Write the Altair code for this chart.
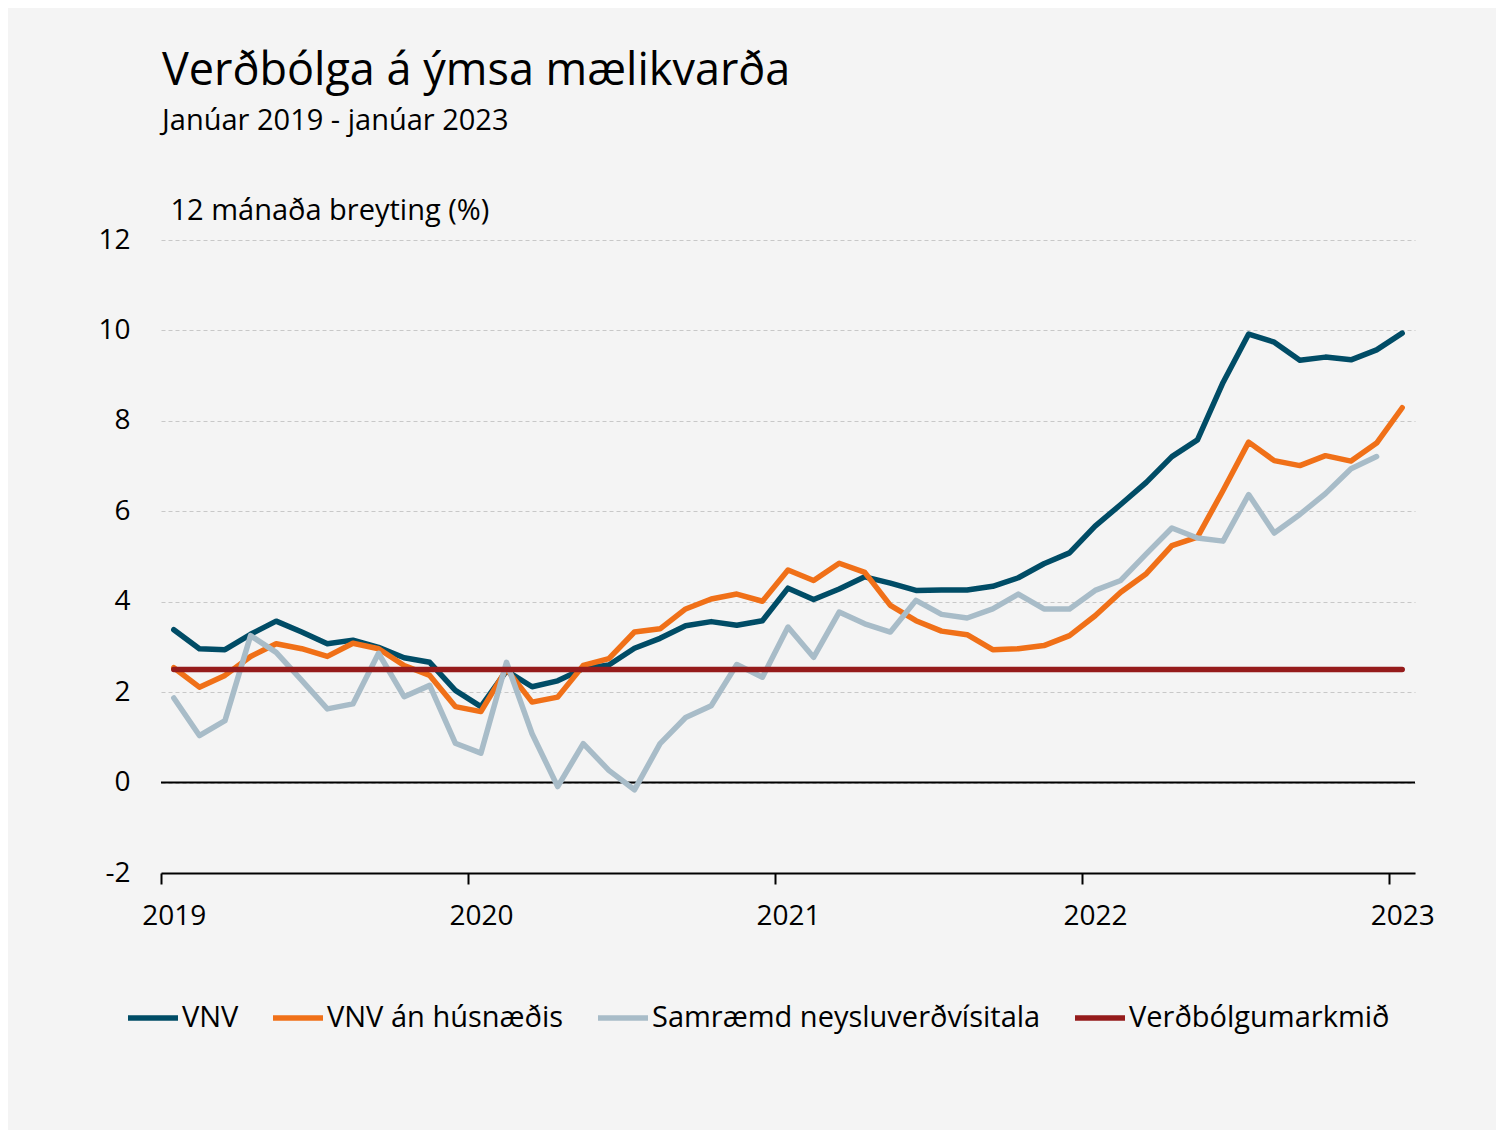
import altair as alt
import pandas as pd

months = list(range(49))  # Jan 2019 .. Jan 2023, monthly index
year_labels = ["2019", "2020", "2021", "2022", "2023"]
year_ticks = [0, 12, 24, 36, 48]

series_names = ["VNV", "VNV án húsnæðis", "Samræmd neysluverðvísitala", "Verðbólgumarkmið"]
series_colors = ["#004c66", "#f07018", "#a8bcc8", "#951b1b"]
series_widths = [5.5, 5.5, 5.5, 7]

vnv = [3.38, 2.96, 2.94, 3.28, 3.57, 3.33, 3.07, 3.15, 2.99, 2.76, 2.66, 2.04,
       1.68, 2.47, 2.12, 2.25, 2.52, 2.60, 2.97, 3.19, 3.47, 3.56, 3.48, 3.58,
       4.30, 4.05, 4.28, 4.55, 4.41, 4.25, 4.26, 4.26, 4.34, 4.53, 4.84, 5.08,
       5.67, 6.15, 6.64, 7.21, 7.58, 8.85, 9.92, 9.74, 9.34, 9.41, 9.35, 9.57, 9.94]

vnv_an_hus = [2.54, 2.11, 2.37, 2.79, 3.07, 2.96, 2.79, 3.08, 2.96, 2.59, 2.37, 1.68,
              1.57, 2.51, 1.78, 1.89, 2.59, 2.74, 3.33, 3.40, 3.84, 4.06, 4.17, 4.01,
              4.70, 4.47, 4.85, 4.65, 3.92, 3.58, 3.35, 3.27, 2.94, 2.96, 3.03, 3.25,
              3.69, 4.21, 4.62, 5.24, 5.43, 6.46, 7.53, 7.12, 7.01, 7.23, 7.11, 7.51, 8.29]

samraemd = [1.87, 1.04, 1.37, 3.25, 2.88, 2.26, 1.63, 1.74, 2.86, 1.90, 2.15, 0.87,
            0.65, 2.66, 1.08, -0.09, 0.86, 0.27, -0.16, 0.86, 1.44, 1.70, 2.61, 2.33,
            3.44, 2.77, 3.77, 3.51, 3.33, 4.03, 3.72, 3.64, 3.84, 4.17, 3.84, 3.84,
            4.25, 4.47, 5.06, 5.63, 5.41, 5.34, 6.37, 5.52, 5.93, 6.39, 6.94, 7.21, None]

markmid = [2.5] * 49

zero_line = [0]

rows = []
for name, vals in zip(series_names, [vnv, vnv_an_hus, samraemd, markmid]):
    for m, v in zip(months, vals):
        if v is not None:
            rows.append({"m": m, "v": v, "s": name})
df = pd.DataFrame(rows)

FONT = "Open Sans"
px_per_month = 1254 / 49

x_enc = alt.X(
    "m:Q",
    scale=alt.Scale(domain=[-0.5, 48.5], nice=False, zero=False),
    axis=alt.Axis(
        values=year_ticks,
        labelExpr="['" + "','".join(year_labels) + "'][datum.value/12]",
        title=None,
        grid=False,
        domainColor="#000000",
        domainWidth=2,
        tickColor="#000000",
        tickWidth=2,
        tickSize=11,
        tickOffset=-px_per_month / 2,
        labelOffset=px_per_month / 2,
        labelPadding=18,
        labelFontSize=28,
        labelFont=FONT,
        labelColor="#000000",
    ),
)

y_enc = alt.Y(
    "v:Q",
    scale=alt.Scale(domain=[-2, 12], nice=False),
    axis=alt.Axis(
        values=[-2, 0, 2, 4, 6, 8, 10, 12],
        labelExpr="toString(datum.value)",
        title="12 mánaða breyting (%)",
        titleAngle=0,
        titleAlign="left",
        titleBaseline="alphabetic",
        titleX=9,
        titleY=-21,
        titleFont=FONT,
        titleFontSize=29,
        titleFontWeight="normal",
        titleColor="#000000",
        domain=False,
        ticks=False,
        labelPadding=31,
        labelFontSize=28,
        labelFont=FONT,
        labelColor="#000000",
        grid=True,
        gridColor="#c8c8c8",
        gridDash=[4, 3],
        gridWidth=1,
    ),
)

lines = alt.Chart(df).mark_line(strokeCap="round", strokeJoin="round").encode(
    x=x_enc,
    y=y_enc,
    color=alt.Color(
        "s:N",
        scale=alt.Scale(domain=series_names, range=series_colors),
        sort=series_names,
        legend=alt.Legend(
            title=None,
            orient="none",
            legendX=-36,
            legendY=750,
            direction="horizontal",
            symbolType="stroke",
            symbolSize=2500,
            symbolStrokeWidth=6,
            labelFont=FONT,
            labelFontSize=29,
            labelColor="#000000",
            labelLimit=600,
            labelOffset=1,
            columnPadding=23,
        ),
    ),
    strokeWidth=alt.StrokeWidth(
        "s:N",
        scale=alt.Scale(domain=series_names, range=series_widths),
        legend=None,
    ),
    order=alt.Order("s_order:Q"),
    detail="s:N",
).transform_calculate(
    s_order="indexof(" + str(series_names) + ", datum.s)"
)

zero = alt.Chart(pd.DataFrame({"z": zero_line})).mark_rule(color="#000000", strokeWidth=2).encode(
    y=alt.Y("z:Q", scale=alt.Scale(domain=[-2, 12], nice=False))
)

chart = alt.layer(zero, lines).properties(
    width=1254,
    height=633,
    title=alt.TitleParams(
        text="Verðbólga á ýmsa mælikvarða",
        subtitle="Janúar 2019 - janúar 2023",
        anchor="start",
        frame="group",
        font=FONT,
        fontSize=45,
        fontWeight="normal",
        color="#000000",
        subtitleFont=FONT,
        subtitleFontSize=29,
        subtitleColor="#000000",
        subtitlePadding=13,
        offset=60,
        dx=1,
    ),
    autosize=alt.AutoSizeParams(type="none"),
    padding={"left": 153, "top": 232, "right": 81, "bottom": 257},
).configure(
    background="#f4f4f4",
).configure_view(
    stroke=None,
)

chart.save("out.html", embed_options={"renderer": "svg", "actions": False})
